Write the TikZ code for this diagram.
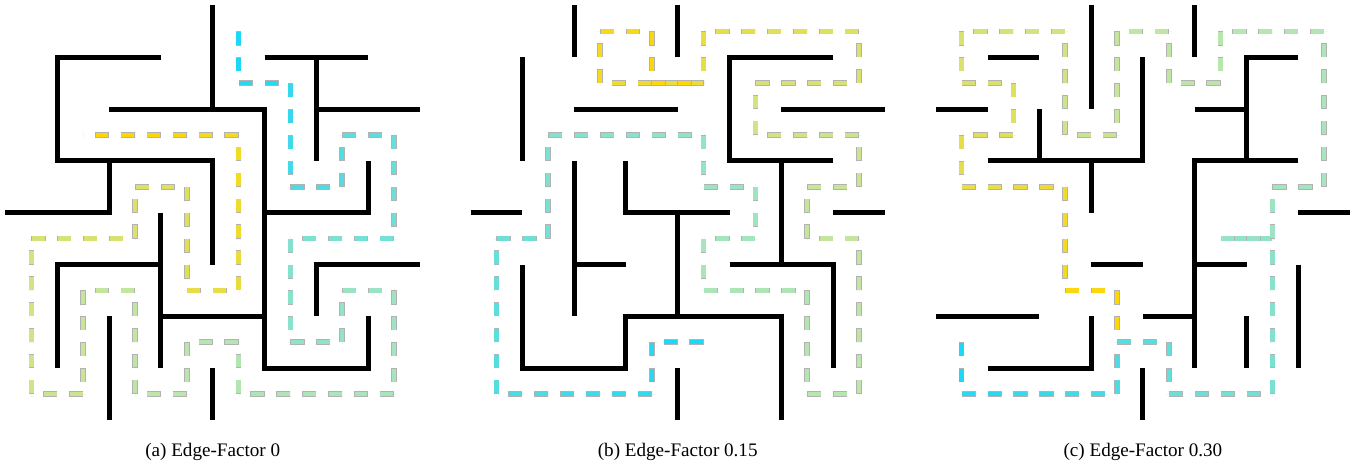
\documentclass[tikz,border=0pt]{standalone}
\usepackage{fontspec}
\setmainfont{Liberation Serif}
\usepackage{xcolor}
\usepackage{tikz}

\definecolor{trailstart}{RGB}{30,214,246}
\definecolor{trailend}{RGB}{255,214,0}

% #1 = number of cells visited, #2 = cells from start to goal
\newcommand{\mazetrail}[2]{%
  \foreach \pt [count=\k, remember=\pt as \prev] in {#2} {
    \ifnum\k>1
      \pgfmathsetmacro{\tpos}{(\k-2)/(#1-2)}
      \pgfmathsetmacro{\tmix}{100*\tpos}
      \pgfmathsetmacro{\topc}{100*(0.62+0.38*abs(2*\tpos-1)^2)}
      \colorlet{segcol}{trailend!\tmix!trailstart}
      \colorlet{segcol}{segcol!\topc!white}
      \draw[trailedge] \prev -- \pt;
      \draw[trailcore, draw=segcol] \prev -- \pt;
    \fi
  }
}

\begin{document}
\begin{tikzpicture}[x=1cm, y=-1cm,
    wall/.style={line width=2.75pt, line cap=butt, line join=miter},
    trailedge/.style={line width=3.1pt, draw=black!30, dash pattern=on 0.274cm off 0.226cm},
    trailcore/.style={line width=2.4pt, dash pattern=on 0.25cm off 0.25cm, dash phase=0.488cm},
    caption/.style={anchor=base, inner sep=0pt, font=\fontsize{10.5}{12}\selectfont}]
    \useasboundingbox (-0.106,-0.106) rectangle (26.187,8.929);

    % (a) Edge-Factor 0
    \begin{scope}
      \begin{scope}[shift={(0.5,0.5)}]
        \mazetrail{48}{(4,0),(4,1),(5,1),(5,2),(5,3),(6,3),(6,2),(7,2),(7,3),(7,4),(6,4),(5,4),
          (5,5),(5,6),(6,6),(6,5),(7,5),(7,6),(7,7),(6,7),(5,7),(4,7),(4,6),(3,6),(3,7),(2,7),
          (2,6),(2,5),(1,5),(1,6),(1,7),(0,7),(0,6),(0,5),(0,4),(1,4),(2,4),(2,3),(3,3),(3,4),
          (3,5),(4,5),(4,4),(4,3),(4,2),(3,2),(2,2),(1,2)}
      \end{scope}
      \draw[wall] (4,0) -- (4,2);
      \draw[wall] (3,1) -- (1,1) -- (1,3) -- (4,3) -- (4,5);
      \draw[wall] (0,4) -- (2,4) -- (2,3);
      \draw[wall] (2,2) -- (5,2) -- (5,7) -- (7,7) -- (7,6);
      \draw[wall] (5,1) -- (7,1);
      \draw[wall] (6,1) -- (6,3);
      \draw[wall] (6,2) -- (8,2);
      \draw[wall] (5,4) -- (7,4) -- (7,3);
      \draw[wall] (3,4) -- (3,7);
      \draw[wall] (3,6) -- (5,6);
      \draw[wall] (1,7) -- (1,5) -- (3,5);
      \draw[wall] (2,6) -- (2,8);
      \draw[wall] (4,7) -- (4,8);
      \draw[wall] (6,6) -- (6,5) -- (8,5);
      \node[caption] (capa) at (4,8.71) {(a) Edge-Factor 0};
    \end{scope}

    % (b) Edge-Factor 0.15
    \begin{scope}[shift={(8.977,0)}]
      \begin{scope}[shift={(0.5,0.5)}]
        \mazetrail{48}{(4,6),(3,6),(3,7),(2,7),(1,7),(0,7),(0,6),(0,5),(0,4),(1,4),(1,3),(1,2),
          (2,2),(3,2),(4,2),(4,3),(5,3),(5,4),(4,4),(4,5),(5,5),(6,5),(6,6),(6,7),(7,7),(7,6),
          (7,5),(7,4),(6,4),(6,3),(7,3),(7,2),(6,2),(5,2),(5,1),(6,1),(7,1),(7,0),(6,0),(5,0),
          (4,0),(4,1),(3,1),(2,1),(2,0),(3,0),(3,1),(4,1)}
      \end{scope}
      \draw[wall] (2,0) -- (2,1);
      \draw[wall] (4,0) -- (4,1);
      \draw[wall] (1,1) -- (1,3);
      \draw[wall] (2,2) -- (4,2);
      \draw[wall] (7,1) -- (5,1) -- (5,3) -- (7,3);
      \draw[wall] (6,3) -- (6,5);
      \draw[wall] (5,5) -- (7,5) -- (7,7);
      \draw[wall] (6,2) -- (8,2);
      \draw[wall] (2,3) -- (2,6);
      \draw[wall] (2,5) -- (3,5);
      \draw[wall] (3,3) -- (3,4) -- (5,4);
      \draw[wall] (4,4) -- (4,6);
      \draw[wall] (6,8) -- (6,6) -- (3,6) -- (3,7) -- (1,7) -- (1,5);
      \draw[wall] (0,4) -- (1,4);
      \draw[wall] (7,4) -- (8,4);
      \draw[wall] (4,7) -- (4,8);
      \node[caption] (capb) at (4,8.71) {(b) Edge-Factor 0.15};
    \end{scope}

    % (c) Edge-Factor 0.30
    \begin{scope}[shift={(17.958,0)}]
      \begin{scope}[shift={(0.5,0.5)}]
        \mazetrail{44}{(0,6),(0,7),(1,7),(2,7),(3,7),(3,6),(4,6),(4,7),(5,7),(6,7),(6,6),(6,5),
          (6,4),(5,4),(6,4),(6,3),(7,3),(7,2),(7,1),(7,0),(6,0),(5,0),(5,1),(4,1),(4,0),(3,0),
          (3,1),(3,2),(2,2),(2,1),(2,0),(1,0),(0,0),(0,1),(1,1),(1,2),(0,2),(0,3),(1,3),(2,3),
          (2,4),(2,5),(3,5),(3,6)}
      \end{scope}
      \draw[wall] (3,0) -- (3,2);
      \draw[wall] (5,0) -- (5,1);
      \draw[wall] (1,1) -- (2,1);
      \draw[wall] (0,2) -- (1,2);
      \draw[wall] (1,3) -- (4,3) -- (4,1);
      \draw[wall] (2,2) -- (2,3);
      \draw[wall] (3,3) -- (3,4);
      \draw[wall] (7,1) -- (6,1) -- (6,3);
      \draw[wall] (5,2) -- (6,2);
      \draw[wall] (7,3) -- (5,3) -- (5,7);
      \draw[wall] (5,5) -- (6,5);
      \draw[wall] (4,6) -- (5,6);
      \draw[wall] (7,4) -- (8,4);
      \draw[wall] (3,5) -- (4,5);
      \draw[wall] (0,6) -- (2,6);
      \draw[wall] (3,6) -- (3,7) -- (1,7);
      \draw[wall] (4,7) -- (4,8);
      \draw[wall] (6,6) -- (6,7);
      \draw[wall] (7,5) -- (7,7);
      \node[caption] (capc) at (4,8.71) {(c) Edge-Factor 0.30};
    \end{scope}
\end{tikzpicture}
\end{document}
